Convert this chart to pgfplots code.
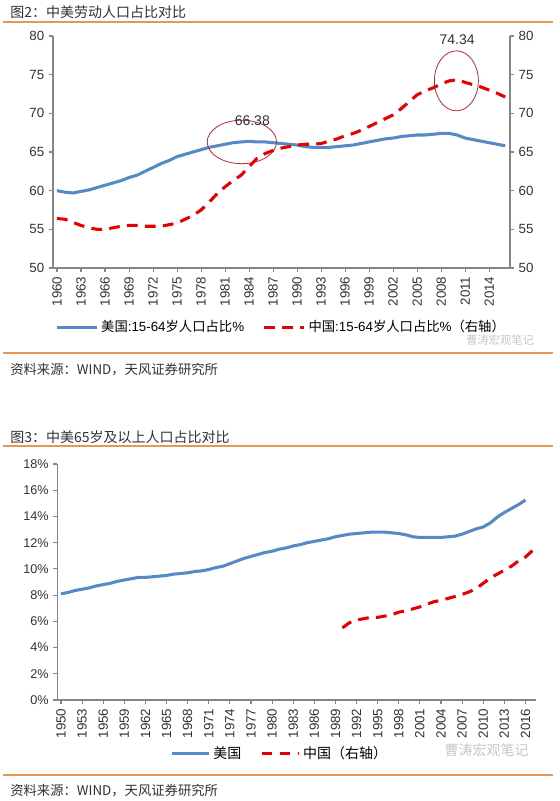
\documentclass[border=0pt]{standalone}
\usepackage{pgfplots}
\pgfplotsset{compat=1.18}
\usepackage{fontspec}
\setmainfont{Liberation Sans}
\newfontfamily\cjk{Noto Sans CJK SC}
\definecolor{usblue}{RGB}{86,138,196}
\definecolor{cnred}{RGB}{232,0,0}
\definecolor{orangeline}{RGB}{228,152,84}
\definecolor{axgray}{RGB}{134,134,134}
\definecolor{txt}{RGB}{50,50,50}
\definecolor{ellred}{RGB}{190,40,50}

\pgfplotstableread{
year us cn
1960 60.0 56.4
1961 59.8 56.3
1962 59.7 55.9
1963 59.9 55.5
1964 60.1 55.2
1965 60.4 55.0
1966 60.7 55.0
1967 61.0 55.2
1968 61.3 55.4
1969 61.7 55.5
1970 62.0 55.5
1971 62.5 55.4
1972 63.0 55.4
1973 63.5 55.4
1974 63.9 55.6
1975 64.4 55.8
1976 64.7 56.3
1977 65.0 56.8
1978 65.3 57.5
1979 65.6 58.5
1980 65.8 59.6
1981 66.0 60.5
1982 66.2 61.3
1983 66.3 62.0
1984 66.38 63.1
1985 66.3 64.2
1986 66.3 64.8
1987 66.2 65.2
1988 66.1 65.5
1989 66.0 65.7
1990 65.9 65.9
1991 65.7 66.0
1992 65.6 66.0
1993 65.6 66.1
1994 65.6 66.4
1995 65.7 66.7
1996 65.8 67.1
1997 65.9 67.4
1998 66.1 67.8
1999 66.3 68.3
2000 66.5 68.8
2001 66.7 69.3
2002 66.8 69.8
2003 67.0 70.6
2004 67.1 71.5
2005 67.2 72.4
2006 67.2 72.9
2007 67.3 73.3
2008 67.4 73.8
2009 67.4 74.2
2010 67.2 74.34
2011 66.8 74.0
2012 66.6 73.7
2013 66.4 73.4
2014 66.2 73.0
2015 66.0 72.6
2016 65.8 72.1
}\labor

\pgfplotstableread{
year us
1950 8.1
1951 8.2
1952 8.35
1953 8.45
1954 8.55
1955 8.7
1956 8.8
1957 8.9
1958 9.05
1959 9.15
1960 9.25
1961 9.35
1962 9.35
1963 9.4
1964 9.45
1965 9.5
1966 9.6
1967 9.65
1968 9.7
1969 9.8
1970 9.85
1971 9.95
1972 10.1
1973 10.2
1974 10.4
1975 10.6
1976 10.8
1977 10.95
1978 11.1
1979 11.25
1980 11.35
1981 11.5
1982 11.6
1983 11.75
1984 11.85
1985 12.0
1986 12.1
1987 12.2
1988 12.3
1989 12.45
1990 12.55
1991 12.65
1992 12.7
1993 12.75
1994 12.8
1995 12.8
1996 12.8
1997 12.75
1998 12.7
1999 12.6
2000 12.45
2001 12.4
2002 12.4
2003 12.4
2004 12.4
2005 12.45
2006 12.5
2007 12.65
2008 12.85
2009 13.05
2010 13.2
2011 13.5
2012 13.95
2013 14.3
2014 14.6
2015 14.9
2016 15.25
}\olderus

\pgfplotstableread{
year cn
1990 5.5
1991 5.9
1992 6.1
1993 6.2
1994 6.3
1995 6.3
1996 6.4
1997 6.5
1998 6.7
1999 6.8
2000 6.95
2001 7.1
2002 7.3
2003 7.5
2004 7.6
2005 7.75
2006 7.9
2007 8.05
2008 8.25
2009 8.5
2010 8.9
2011 9.3
2012 9.6
2013 9.9
2014 10.2
2015 10.6
2016 10.9
2017 11.4
}\oldercn

\pgfplotsset{
  common/.style={
    scale only axis,
    /pgf/number format/assume math mode=true,
    tick label style={font=\fontsize{10}{12}\selectfont, text=txt},
    axis line style={axgray, line width=0.8pt},
    tick style={axgray, line width=0.8pt},
    major tick length=3pt,
    tick align=outside,
    clip=false,
  },
  usline/.style={usblue, line width=2.3pt, line join=round},
  cnline/.style={cnred, line width=2.3pt, dash pattern=on 8pt off 5.5pt},
}

\begin{document}
\begin{tikzpicture}
\path[use as bounding box] (0,0) rectangle (420pt,600.75pt);

% ---------- headers and rules ----------
\node[anchor=west, text=txt, inner sep=0pt, font=\fontsize{10.5}{12}\selectfont\cjk] at (7.5pt,591.75pt) {图2：中美劳动人口占比对比};
\draw[orangeline, line width=0.9pt] (2.25pt,584.25pt) -- (414.75pt,584.25pt);
\draw[orangeline, line width=0.9pt] (2.25pt,336pt) -- (414.75pt,336pt);
\node[anchor=west, text=txt, inner sep=0pt, font=\fontsize{10}{12}\selectfont\cjk] at (7.5pt,323.25pt) {资料来源：WIND，天风证券研究所};

\node[anchor=west, text=txt, inner sep=0pt, font=\fontsize{10.5}{12}\selectfont\cjk] at (7.5pt,273pt) {图3：中美65岁及以上人口占比对比};
\draw[orangeline, line width=0.9pt] (2.25pt,266.25pt) -- (414.75pt,266.25pt);
\draw[orangeline, line width=0.9pt] (2.25pt,19.5pt) -- (414.75pt,19.5pt);
\node[anchor=west, text=txt, inner sep=0pt, font=\fontsize{10}{12}\selectfont\cjk] at (7.5pt,7.5pt) {资料来源：WIND，天风证券研究所};

% ---------- panel 1 ----------
\begin{axis}[common,
  at={(39.75pt,399.75pt)}, anchor=south west,
  width=342.75pt, height=174pt,
  xmin=1959.5, xmax=2016.6, ymin=50, ymax=80,
  ytick={50,55,...,80},
  xtick={1960,1963,...,2014},
  xticklabel style={rotate=90, anchor=east},
  x tick label style={/pgf/number format/1000 sep={}},
  axis x line*=bottom, axis y line*=left,
  legend style={at={(0.5,-0.255)}, anchor=center, draw=none, fill=none,
    font=\fontsize{10}{12}\selectfont, legend columns=2,
    /tikz/every even column/.append style={column sep=12pt}},
  legend cell align=left,
  legend image code/.code={\draw[#1] (0pt,0pt) -- (30pt,0pt);},
]
\addplot[usline] table[x=year,y=us] {\labor};
\addlegendentry{{\cjk 美国}:15-64{\cjk 岁人口占比}\%}
\addlegendimage{cnline}
\addlegendentry{{\cjk 中国}:15-64{\cjk 岁人口占比}\%{\cjk （右轴）}}
\draw[ellred, line width=0.6pt] (axis cs:1983.1,66.3) ellipse [x radius=26pt, y radius=16.3pt];
\node[font=\fontsize{10.5}{12}\selectfont, text=txt] at (axis cs:1984.4,69.0) {66.38};
\end{axis}

\begin{axis}[common,
  at={(39.75pt,399.75pt)}, anchor=south west,
  width=342.75pt, height=174pt,
  xmin=1959.5, xmax=2016.6, ymin=50, ymax=80,
  ytick={50,55,...,80},
  axis x line=none, axis y line*=right,
]
\addplot[cnline] table[x=year,y=cn] {\labor};
\draw[ellred, line width=0.6pt] (axis cs:2009.9,74.2) ellipse [x radius=16.5pt, y radius=22.5pt];
\node[font=\fontsize{10.5}{12}\selectfont, text=txt] at (axis cs:2010,79.5) {74.34};
\end{axis}

\node[anchor=center, text=gray!45, font=\fontsize{8.5}{10}\selectfont\cjk] at (375pt,346pt) {曹涛宏观笔记};

% ---------- panel 2 ----------
\begin{axis}[common,
  at={(43.1pt,75.75pt)}, anchor=south west,
  width=358.9pt, height=177pt,
  xmin=1949.5, xmax=2017.5, ymin=0, ymax=18,
  ytick={0,2,...,18},
  yticklabel={\pgfmathprintnumber{\tick}\%},
  y tick label style={font=\fontsize{9.5}{12}\selectfont},
  xtick={1950,1953,...,2016},
  xticklabel style={rotate=90, anchor=east},
  x tick label style={/pgf/number format/1000 sep={}},
  axis x line*=bottom, axis y line*=left,
  legend style={at={(0.465,-0.225)}, anchor=center, draw=none, fill=none,
    font=\fontsize{10.5}{12}\selectfont\cjk, legend columns=2,
    /tikz/every even column/.append style={column sep=12pt}},
  legend cell align=left,
  legend image code/.code={\draw[#1] (0pt,0pt) -- (28pt,0pt);},
]
\addplot[usline] table[x=year,y=us] {\olderus};
\addlegendentry{美国}
\addplot[cnline] table[x=year,y=cn] {\oldercn};
\addlegendentry{中国（右轴）}
\end{axis}

\node[anchor=center, text=gray!45, font=\fontsize{10.5}{12}\selectfont\cjk] at (365pt,38pt) {曹涛宏观笔记};
\end{tikzpicture}
\end{document}
